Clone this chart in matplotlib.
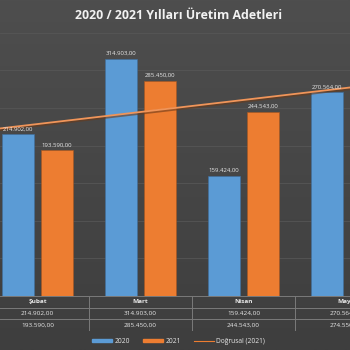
import numpy as np
import matplotlib
matplotlib.use('Agg')
import matplotlib.pyplot as plt
from matplotlib.patches import Patch
from matplotlib.lines import Line2D

# Veriler
aylar = ['Şubat', 'Mart', 'Nisan', 'Mayıs']
uretim_2020 = [214902, 314903, 159424, 270564]
uretim_2021 = [193590, 285450, 244543, 274550]
etiket_2020 = ['214.902,00', '314.903,00', '159.424,00', '270.564,00']
etiket_2021 = ['193.590,00', '285.450,00', '244.543,00', '274.550,00']
trend_2021 = [228500, 244500, 260500, 276500]

mavi = '#5B9BD5'
turuncu = '#ED7D31'
yazi = '#E8E8E8'
cizgi = '#7A7A7A'

plt.rcParams['font.family'] = ['Open Sans', 'DejaVu Sans']

fig = plt.figure(figsize=(3.5, 3.5), dpi=100)

# arka plan (hafif degrade)
bg = fig.add_axes([0, 0, 1, 1], zorder=-10)
grad = np.linspace(0, 1, 256).reshape(-1, 1)
bg.imshow(grad, aspect='auto', cmap=matplotlib.colors.LinearSegmentedColormap.from_list(
    'bg', ['#4E4E4E', '#3E3E3E']), extent=[0, 1, 0, 1], origin='upper')
bg.axis('off')

x = np.arange(len(aylar))
xlim = (-0.364, 3.034)

ax = fig.add_axes([0, 0.154, 1, 0.753])
ax.set_facecolor('none')
ax.set_xlim(xlim)
ax.set_ylim(0, 350000)
ax.set_yticks(np.arange(50000, 350001, 50000))
ax.grid(axis='y', color='#565656', linewidth=0.6)
ax.set_axisbelow(True)
for s in ax.spines.values():
    s.set_visible(False)
ax.tick_params(left=False, bottom=False, labelleft=False, labelbottom=False)

w = 0.31
ax.bar(x - 0.19, uretim_2020, w, color=mavi, edgecolor='#3F6F9F', linewidth=0.4)
ax.bar(x + 0.19, uretim_2021, w, color=turuncu, edgecolor='#A8561F', linewidth=0.4)

for i in range(len(aylar)):
    ax.text(x[i] - 0.19, uretim_2020[i] + 4000, etiket_2020[i], ha='center', va='bottom',
            fontsize=4.3, color=yazi)
    ax.text(x[i] + 0.19, uretim_2021[i] + 4000, etiket_2021[i], ha='center', va='bottom',
            fontsize=4.3, color=yazi)

# dogrusal egilim cizgisi
tx = np.array(x, dtype=float)
katsayi = np.polyfit(tx, trend_2021, 1)
xx = np.array(xlim)
ax.plot(xx, np.polyval(katsayi, xx) - 1500, color='#6A3A1A', linewidth=2.2, alpha=0.6)
ax.plot(xx, np.polyval(katsayi, xx), color='#F0955A', linewidth=1.3)

# veri tablosu
tb = fig.add_axes([0, 0.054, 1, 0.1])
tb.set_facecolor('none')
tb.set_xlim(xlim)
tb.set_ylim(0, 3)
tb.axis('off')
for yy in [0, 1, 2, 3]:
    tb.axhline(yy, color=cizgi, linewidth=0.7)
for k in range(len(aylar)):
    tb.axvline(k + 0.5, color=cizgi, linewidth=0.7)
for i in range(len(aylar)):
    tb.text(x[i], 2.5, aylar[i], ha='center', va='center', fontsize=4.6,
            color=yazi, fontweight='bold')
    tb.text(x[i], 1.5, etiket_2020[i], ha='center', va='center', fontsize=4.6, color=yazi)
    tb.text(x[i], 0.5, etiket_2021[i], ha='center', va='center', fontsize=4.6, color=yazi)

fig.text(0.51, 0.957, '2020 / 2021 Yılları Üretim Adetleri', ha='center', va='center',
         fontsize=8.9, fontweight='bold', color='#F2F2F2')

handles = [Patch(color=mavi), Patch(color=turuncu), Line2D([0], [0], color=turuncu, linewidth=0.8)]
leg = fig.legend(handles, ['2020', '2021', 'Doğrusal (2021)'], loc='center',
                 bbox_to_anchor=(0.51, 0.024), ncol=3, frameon=False, fontsize=4.8,
                 handlelength=3.0, handleheight=0.35, columnspacing=2.0, handletextpad=0.3)
for t in leg.get_texts():
    t.set_color(yazi)

fig.savefig('out.png', dpi=100)
